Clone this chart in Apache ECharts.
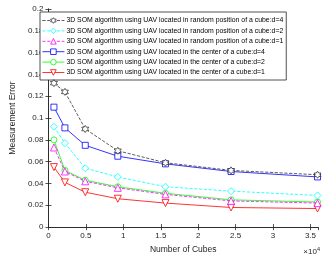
<!DOCTYPE html>
<html><head><meta charset="utf-8">
<script src="https://cdn.jsdelivr.net/npm/echarts@6/dist/echarts.min.js"></script>
<style>html,body{margin:0;padding:0;background:#fff}#c{width:329px;height:259px}</style>
</head><body><div id="c"></div>
<script>
const cubes = [729, 2197, 4913, 9261, 15625, 24389, 35937];
const seriesNames = [
  '3D SOM algorithm using UAV located in random position of a cube:d=4',
  '3D SOM algorithm using UAV located in random position of a cube:d=2',
  '3D SOM algorithm using UAV located in random position of a cube:d=1',
  '3D SOM algorithm using UAV located in the center of a cube:d=4',
  '3D SOM algorithm using UAV located in the center of a cube:d=2',
  '3D SOM algorithm using UAV located in the center of a cube:d=1'
];
const randD4 = [0.132, 0.124, 0.090, 0.070, 0.059, 0.052, 0.048];
const randD2 = [0.092, 0.077, 0.054, 0.046, 0.037, 0.033, 0.029];
const randD1 = [0.073, 0.051, 0.042, 0.036, 0.030, 0.024, 0.022];
const centD4 = [0.110, 0.091, 0.075, 0.065, 0.058, 0.051, 0.046];
const centD2 = [0.080, 0.052, 0.043, 0.037, 0.031, 0.025, 0.023];
const centD1 = [0.055, 0.041, 0.032, 0.026, 0.022, 0.018, 0.017];
const yTicks = { min: 0, max: 0.2, interval: 0.02 };
const xTicks = { min: 0, max: 36000, interval: 5000 };

function hexagram() {
  let p = '';
  for (let i = 0; i < 12; i++) {
    const a = Math.PI / 6 * i - Math.PI / 2;
    const r = (i % 2 === 0) ? 10 : 5.77;
    const x = (r * Math.cos(a)).toFixed(2), y = (r * Math.sin(a)).toFixed(2);
    p += (i === 0 ? 'M' : 'L') + x + ' ' + y + ' ';
  }
  return 'path://' + p + 'Z';
}
const triDown = 'path://M-10 -8 L10 -8 L0 9 Z';

const specs = [
  { data: randD4, color: '#333333', dash: 'dashed', symbol: hexagram(), size: 7 },
  { data: randD2, color: '#00ffff', dash: 'dashed', symbol: 'diamond', size: 7 },
  { data: randD1, color: '#ff00ff', dash: 'dashed', symbol: 'triangle', size: 7 },
  { data: centD4, color: '#0000ff', dash: 'solid', symbol: 'rect', size: 6 },
  { data: centD2, color: '#00ff00', dash: 'solid', symbol: 'circle', size: 6 },
  { data: centD1, color: '#ff0000', dash: 'solid', symbol: triDown, size: 7 }
];

const FONT = 'Liberation Sans';
const TXT = '#262626';
const axisCol = '#262626';

const chart = echarts.init(document.getElementById('c'), null, { renderer: 'canvas' });
chart.setOption({
  animation: false,
  backgroundColor: '#fff',
  textStyle: { fontFamily: FONT },
  grid: { left: 38, right: 11, top: 9, bottom: 30 },
  legend: {
    orient: 'vertical', left: 40, top: 12,
    data: seriesNames.map((n, i) => ({
      name: n,
      itemStyle: { color: '#fff', borderColor: specs[i].color, borderWidth: 0.8 },
      lineStyle: { color: specs[i].color, width: 0.8, type: specs[i].dash }
    })),
    backgroundColor: '#fff', borderColor: '#262626', borderWidth: 0.8,
    padding: [5, 3, 4, 2], itemGap: 3.4, itemWidth: 22, itemHeight: 7,
    textStyle: { fontSize: 6.9, color: '#000', fontFamily: FONT, padding: [0, 0, 0, -3] }
  },
  xAxis: [{
    type: 'value', min: xTicks.min, max: xTicks.max, interval: xTicks.interval,
    axisLine: { show: true, lineStyle: { color: axisCol, width: 0.8 } },
    axisTick: { show: true, inside: true, length: 3, lineStyle: { color: axisCol, width: 0.8 } },
    splitLine: { show: false },
    axisLabel: { color: TXT, fontSize: 8, margin: 5, showMaxLabel: false, formatter: v => String(v / 10000) },
    name: 'Number of Cubes', nameLocation: 'middle', nameGap: 17,
    nameTextStyle: { color: TXT, fontSize: 8.5 }
  }, {
    type: 'value', position: 'top', min: xTicks.min, max: xTicks.max, interval: xTicks.interval,
    axisLine: { show: true, lineStyle: { color: axisCol, width: 0.8 } },
    axisTick: { show: true, inside: true, length: 3, lineStyle: { color: axisCol, width: 0.8 } },
    axisLabel: { show: false }, splitLine: { show: false }
  }],
  yAxis: [{
    type: 'value', min: yTicks.min, max: yTicks.max, interval: yTicks.interval,
    axisLine: { show: true, lineStyle: { color: axisCol, width: 0.8 } },
    axisTick: { show: true, inside: true, length: 3, lineStyle: { color: axisCol, width: 0.8 } },
    splitLine: { show: false },
    axisLabel: { color: TXT, fontSize: 8, margin: 5 },
    name: 'Measurement Error', nameLocation: 'middle', nameGap: 27,
    nameTextStyle: { color: TXT, fontSize: 8.5 }
  }, {
    type: 'value', position: 'right', min: yTicks.min, max: yTicks.max, interval: yTicks.interval,
    axisLine: { show: true, lineStyle: { color: axisCol, width: 0.8 } },
    axisTick: { show: true, inside: true, length: 3, lineStyle: { color: axisCol, width: 0.8 } },
    axisLabel: { show: false }, splitLine: { show: false }
  }],
  graphic: [{
    type: 'text', right: 9, bottom: 3,
    style: {
      text: '{a|×10}{b|4}', fill: TXT,
      rich: { a: { fontSize: 8, fontFamily: FONT, fill: TXT }, b: { fontSize: 5.5, fontFamily: FONT, fill: TXT, verticalAlign: 'top', padding: [0, 0, 5, 0] } }
    }
  }],
  series: specs.map((s, i) => ({
    name: seriesNames[i], type: 'line',
    data: cubes.map((c, j) => [c, s.data[j]]),
    symbol: s.symbol, symbolSize: s.size, showSymbol: true,
    lineStyle: { color: s.color, width: 0.8, type: s.dash },
    itemStyle: { color: '#fff', borderColor: s.color, borderWidth: 0.8 },
    z: 10 - i
  }))
});
</script></body></html>
